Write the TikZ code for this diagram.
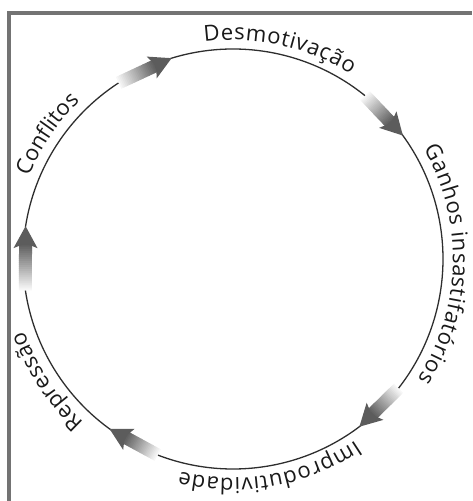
\documentclass[tikz,border=0pt]{standalone}
\usepackage{fontspec}
\setmainfont{Open Sans}
\newfontfamily\lblfont{Open Sans}
\usetikzlibrary{decorations.text,calc}
\begin{document}
\begin{tikzpicture}[x=1pt,y=1pt,
  ring/.style={line width=1.3pt, draw=black!82},
  frameline/.style={line width=4pt, draw=black!55, line join=miter},
  headfill/.style={fill=black!64},
  lbl/.style={decorate, decoration={text along path, text align={fit to path}, text color=black!90}}]
\useasboundingbox (0,0) rectangle (472,501);
\coordinate (C) at (233,242);
\def\R{210}
% frame
\draw[frameline] (9,0) -- (9,488) -- (472,488);
% ring segments between arrows
\foreach \s/\e in {108/51, 37/-38, -52/-111, -125/-171.4, 171.3/123} {
  \draw[ring] ($(C)+(\s:\R)$) arc[start angle=\s, end angle=\e, radius=\R];
}
% shaded arrows
\foreach \a/\b in {123/107, 51/36, -38/-53, -111/-126, 188.6/171} {
  \pgfmathsetmacro\arrmid{(\a+\b)/2-90}
  \pgfmathsetmacro\arrlen{2*\R*sin((\a-\b)/2)}
  \pgfmathsetmacro\arrhl{22}
  \pgfmathsetmacro\arrsl{\arrlen-0.78*\arrhl}
  \begin{scope}[shift={($(C)+(\a:\R)$)}, rotate=\arrmid]
    \foreach \i in {0,...,23} {
      \pgfmathsetmacro\xa{\arrsl*\i/24}
      \pgfmathsetmacro\xb{\arrsl*(\i+1)/24+0.5}
      \pgfmathsetmacro\sh{3+61*\i/23}
      \fill[black!\sh] (\xa,-6.5) rectangle (\xb,6.5);
    }
    \fill[headfill] (\arrlen,0) -- (\arrlen-\arrhl,12) -- (\arrsl,0) -- (\arrlen-\arrhl,-12) -- cycle;
  \end{scope}
}
% labels along the ring
\path[lbl, decoration={text={|\lblfont\fontsize{22}{24}\selectfont|Desmotivação}}]
  ($(C)+(97.5:219)$) arc[start angle=97.5, end angle=57.5, radius=219];
\path[lbl, decoration={text={|\lblfont\fontsize{22}{24}\selectfont|Ganhos insastifatórios}}]
  ($(C)+(30:220)$) arc[start angle=30, end angle=-33, radius=220];
\path[lbl, decoration={text={|\lblfont\fontsize{22}{24}\selectfont|Improdutividade}}]
  ($(C)+(-56:219)$) arc[start angle=-56, end angle=-104, radius=219];
\path[lbl, decoration={text={|\lblfont\fontsize{22}{24}\selectfont|Repressão}}]
  ($(C)+(-132.5:221)$) arc[start angle=-132.5, end angle=-161, radius=221];
\path[lbl, decoration={text={|\lblfont\fontsize{22}{24}\selectfont|Conflitos}}]
  ($(C)+(158:220)$) arc[start angle=158, end angle=134, radius=220];
\end{tikzpicture}
\end{document}
